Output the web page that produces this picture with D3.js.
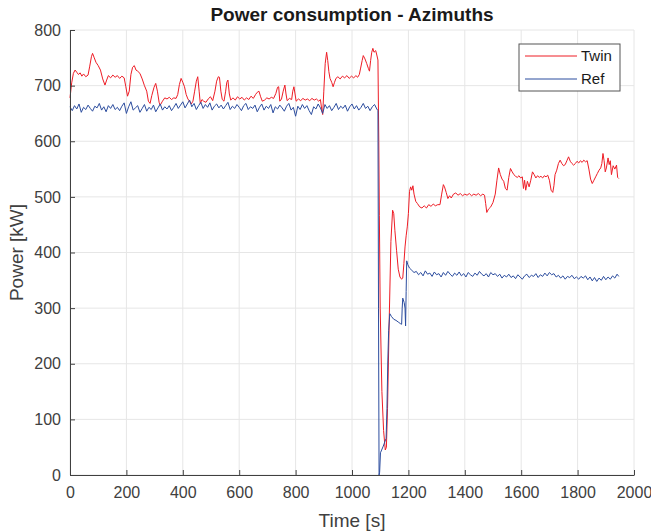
<!DOCTYPE html>
<html>
<head>
<meta charset="utf-8">
<script src="https://cdn.jsdelivr.net/npm/d3@7"></script>
<style>
  body { margin: 0; background: #fff; }
  svg { font-family: "Liberation Sans", Arial, sans-serif; }
</style>
</head>
<body>
<svg id="chart" width="651" height="532"></svg>
<script>
// Power consumption of the azimuth thrusters, [time s, power kW]
const twinPoints = [
  [0,678],[6,705],[12,722],[18,728],[24,724],[30,720],[36,723],[42,717],[48,721],[56,716],[64,719],
  [70,735],[76,752],[80,758],[86,750],[92,742],[100,736],[108,728],[116,712],[124,701],[130,710],
  [136,718],[144,714],[152,719],[160,715],[168,718],[176,713],[184,717],[192,714],[198,698],[204,681],
  [210,690],[216,720],[222,733],[228,736],[234,728],[240,726],[248,722],[256,712],[264,700],[272,690],
  [278,672],[284,668],[290,682],[298,697],[304,704],[310,690],[316,670],[320,665],[328,672],[336,678],
  [344,676],[352,679],[360,675],[368,678],[376,677],[382,684],[388,702],[394,713],[400,706],[406,698],
  [412,684],[418,676],[424,672],[430,667],[436,672],[442,690],[448,708],[453,716],[458,690],[462,668],
  [468,675],[474,672],[482,670],[490,676],[498,680],[506,673],[514,690],[520,708],[526,716],[530,715],
  [535,690],[540,675],[546,672],[552,690],[556,706],[560,710],[565,685],[570,674],[578,678],[586,674],
  [594,680],[602,676],[610,679],[618,674],[626,678],[634,675],[642,681],[650,677],[658,684],[664,688],
  [670,690],[676,680],[682,672],[690,674],[698,678],[706,676],[714,679],[722,677],[730,686],[736,697],
  [740,698],[744,672],[750,676],[756,690],[762,701],[766,685],[770,673],[778,677],[786,675],[790,690],
  [794,698],[798,685],[802,672],[810,676],[818,673],[826,677],[834,674],[842,676],[850,673],[858,677],
  [866,674],[874,676],[882,672],[888,675],[893,656],[896,648],[900,690],[905,740],[910,760],[914,745],
  [918,725],[922,713],[928,706],[933,698],[938,706],[943,713],[950,716],[958,712],[966,717],[974,714],
  [982,718],[990,713],[998,717],[1006,714],[1014,718],[1020,715],[1026,720],[1030,730],[1036,745],
  [1040,754],[1046,748],[1052,740],[1058,731],[1062,726],[1066,745],[1070,760],[1074,767],[1078,760],
  [1084,763],[1088,755],[1092,746],[1095,600],[1097,467],[1100,300],[1106,150],[1112,80],[1118,45],
  [1122,50],[1126,120],[1132,280],[1138,420],[1144,476],[1148,470],[1152,440],[1158,404],[1164,370],
  [1170,356],[1176,352],[1180,354],[1184,380],[1188,410],[1192,430],[1196,446],[1200,470],[1204,510],
  [1208,518],[1212,512],[1216,520],[1220,505],[1226,492],[1232,488],[1240,482],[1248,480],[1256,484],
  [1264,480],[1272,486],[1280,483],[1288,487],[1296,484],[1304,486],[1312,486],[1318,505],[1324,522],
  [1328,518],[1334,508],[1340,497],[1346,502],[1352,498],[1360,505],[1368,507],[1376,503],[1384,506],
  [1392,502],[1400,505],[1408,503],[1416,506],[1424,502],[1432,505],[1440,503],[1448,506],[1456,502],
  [1464,505],[1470,503],[1474,488],[1478,472],[1484,478],[1492,482],[1500,490],[1508,505],[1514,530],
  [1520,552],[1526,540],[1532,532],[1538,528],[1544,515],[1550,512],[1556,535],[1562,551],[1568,545],
  [1574,540],[1580,537],[1586,535],[1592,538],[1598,534],[1604,536],[1608,515],[1612,530],[1616,512],
  [1622,528],[1628,518],[1634,530],[1640,545],[1646,540],[1652,534],[1658,538],[1664,535],[1670,537],
  [1676,534],[1682,538],[1688,536],[1694,539],[1700,530],[1706,512],[1712,508],[1716,520],[1720,540],
  [1726,548],[1732,560],[1738,566],[1744,560],[1750,556],[1756,558],[1762,565],[1768,572],[1774,564],
  [1780,560],[1786,557],[1792,560],[1798,564],[1804,561],[1810,565],[1816,562],[1822,566],[1828,563],
  [1834,565],[1840,550],[1846,532],[1852,524],[1858,530],[1864,536],[1870,542],[1876,548],[1882,552],
  [1886,560],[1890,578],[1894,565],[1898,545],[1902,552],[1908,570],[1912,558],[1916,565],[1920,540],
  [1926,556],[1932,550],[1938,557],[1942,535],[1946,533]
];

const refPoints = [
  [0,662],[8,655],[16,664],[24,658],[32,667],[40,652],[48,661],[56,657],[64,665],[72,659],[80,654],
  [88,663],[96,660],[104,668],[112,656],[120,662],[128,653],[136,664],[144,659],[152,666],[160,657],
  [168,661],[176,655],[184,663],[192,669],[200,650],[208,662],[216,671],[224,656],[232,660],[240,664],
  [248,652],[256,659],[264,666],[272,654],[280,661],[288,657],[296,665],[304,653],[312,660],[320,667],
  [328,656],[336,662],[344,658],[352,664],[360,655],[368,661],[376,668],[384,659],[392,665],[400,671],
  [408,660],[416,667],[424,674],[432,662],[440,668],[448,657],[456,664],[464,670],[472,659],[480,666],
  [488,661],[496,669],[504,656],[512,663],[520,667],[528,660],[536,665],[544,658],[552,664],[560,670],
  [568,657],[576,663],[584,659],[592,666],[600,661],[608,655],[616,664],[624,668],[632,657],[640,662],
  [648,659],[656,665],[664,653],[672,661],[680,667],[688,656],[696,663],[704,659],[712,666],[720,651],
  [728,662],[736,658],[744,665],[752,660],[760,654],[768,663],[776,668],[784,656],[792,661],[800,645],
  [808,663],[816,657],[824,666],[832,659],[840,664],[848,655],[856,648],[864,662],[872,658],[880,667],
  [888,660],[896,650],[904,666],[912,659],[920,664],[928,655],[936,661],[944,668],[952,657],[960,663],
  [968,659],[976,665],[984,654],[992,662],[1000,667],[1008,658],[1016,664],[1024,656],[1032,661],
  [1040,668],[1048,659],[1056,663],[1064,655],[1072,662],[1080,666],[1088,658],[1092,655],[1094,300],
  [1096,0],[1098,5],[1101,40],[1111,52],[1121,66],[1124,120],[1127,205],[1130,260],[1134,290],
  [1140,285],[1148,280],[1156,278],[1164,275],[1172,272],[1176,271],[1178,300],[1180,318],[1185,310],
  [1188,300],[1190,268],[1192,330],[1194,385],[1198,378],[1204,372],[1212,368],[1220,364],
  [1228,366],[1236,360],[1244,364],[1252,358],[1260,367],[1268,361],[1276,363],[1284,357],[1292,365],
  [1300,360],[1308,362],[1316,356],[1324,364],[1332,359],[1340,366],[1348,361],[1356,357],[1364,363],
  [1372,359],[1380,365],[1388,358],[1396,362],[1404,356],[1412,364],[1420,360],[1428,357],[1436,363],
  [1444,359],[1452,366],[1460,361],[1468,358],[1476,362],[1484,356],[1492,364],[1500,360],[1508,362],
  [1516,357],[1524,361],[1532,354],[1540,359],[1548,356],[1556,361],[1564,355],[1572,358],[1580,353],
  [1588,360],[1596,356],[1604,352],[1612,358],[1620,361],[1628,355],[1636,359],[1644,357],[1652,362],
  [1660,355],[1668,360],[1676,357],[1684,363],[1692,358],[1700,364],[1708,360],[1716,362],[1724,356],
  [1732,359],[1740,354],[1748,358],[1756,352],[1764,357],[1772,355],[1780,359],[1788,353],[1796,356],
  [1804,352],[1812,357],[1820,354],[1828,358],[1836,351],[1844,356],[1852,349],[1860,355],[1868,348],
  [1876,354],[1884,350],[1892,357],[1900,351],[1908,356],[1916,352],[1924,358],[1932,354],[1940,361],
  [1946,357]
];

const seriesNames = ["Twin", "Ref"];
const seriesColors = ["#ee1c25", "#2b4c9e"];
const xTicks = [0, 200, 400, 600, 800, 1000, 1200, 1400, 1600, 1800, 2000];
const yTicks = [0, 100, 200, 300, 400, 500, 600, 700, 800];

const svg = d3.select("#chart");
const margin = { top: 30, right: 17, bottom: 57, left: 70 };
const width = 651 - margin.left - margin.right;
const height = 532 - margin.top - margin.bottom;
const axisColor = "#404040";

const g = svg.append("g").attr("transform", `translate(${margin.left},${margin.top})`);

const x = d3.scaleLinear().domain([0, 2000]).range([0, width]);
const y = d3.scaleLinear().domain([0, 800]).range([height, 0]);

// grid
g.append("g").selectAll("line").data(xTicks).enter().append("line")
  .attr("x1", d => x(d)).attr("x2", d => x(d)).attr("y1", 0).attr("y2", height)
  .attr("stroke", "#e6e6e6").attr("stroke-width", 1);
g.append("g").selectAll("line").data(yTicks).enter().append("line")
  .attr("x1", 0).attr("x2", width).attr("y1", d => y(d)).attr("y2", d => y(d))
  .attr("stroke", "#e6e6e6").attr("stroke-width", 1);

// lines
const line = d3.line().x(d => x(d[0])).y(d => y(d[1]));
[twinPoints, refPoints].forEach((pts, i) => {
  g.append("path")
    .datum(pts)
    .attr("fill", "none")
    .attr("stroke", seriesColors[i])
    .attr("stroke-width", 1)
    .attr("stroke-linejoin", "round")
    .attr("d", line);
});

// axes
const xAxis = g.append("g")
  .attr("transform", `translate(0,${height})`)
  .call(d3.axisBottom(x).tickValues(xTicks).tickFormat(d3.format("d"))
    .tickSizeInner(-5).tickSizeOuter(0).tickPadding(12));
const yAxis = g.append("g")
  .call(d3.axisLeft(y).tickValues(yTicks).tickFormat(d3.format("d"))
    .tickSizeInner(-5).tickSizeOuter(0).tickPadding(9));
[xAxis, yAxis].forEach(a => {
  a.select(".domain").attr("stroke", axisColor);
  a.selectAll(".tick line").attr("stroke", axisColor);
  a.selectAll("text")
    .attr("fill", axisColor)
    .style("font-size", "16px")
    .style("font-family", "Liberation Sans, Arial, sans-serif");
});

// Title and labels
svg.append("text")
  .attr("x", margin.left + width / 2)
  .attr("y", 21)
  .attr("text-anchor", "middle")
  .style("font-size", "19px")
  .style("font-weight", "bold")
  .attr("fill", "#1a1a1a")
  .text("Power consumption - Azimuths");

svg.append("text")
  .attr("x", margin.left + width / 2)
  .attr("y", 527)
  .attr("text-anchor", "middle")
  .style("font-size", "19px")
  .attr("fill", axisColor)
  .text("Time [s]");

svg.append("text")
  .attr("transform", `translate(23,${margin.top + height / 2}) rotate(-90)`)
  .attr("text-anchor", "middle")
  .style("font-size", "19px")
  .attr("fill", axisColor)
  .text("Power [kW]");

// Legend
const legend = svg.append("g").attr("transform", "translate(519,44)");
legend.append("rect")
  .attr("width", 101).attr("height", 47)
  .attr("fill", "#fff").attr("stroke", "#555").attr("stroke-width", 1);
seriesNames.forEach((name, i) => {
  const row = legend.append("g").attr("transform", `translate(0,${12 + i * 23})`);
  row.append("line")
    .attr("x1", 6).attr("x2", 58).attr("y1", 0).attr("y2", 0)
    .attr("stroke", seriesColors[i]).attr("stroke-width", 1);
  row.append("text")
    .attr("x", 62).attr("y", 5)
    .style("font-size", "15px")
    .attr("fill", "#1a1a1a")
    .text(name);
});
</script>
</body>
</html>
